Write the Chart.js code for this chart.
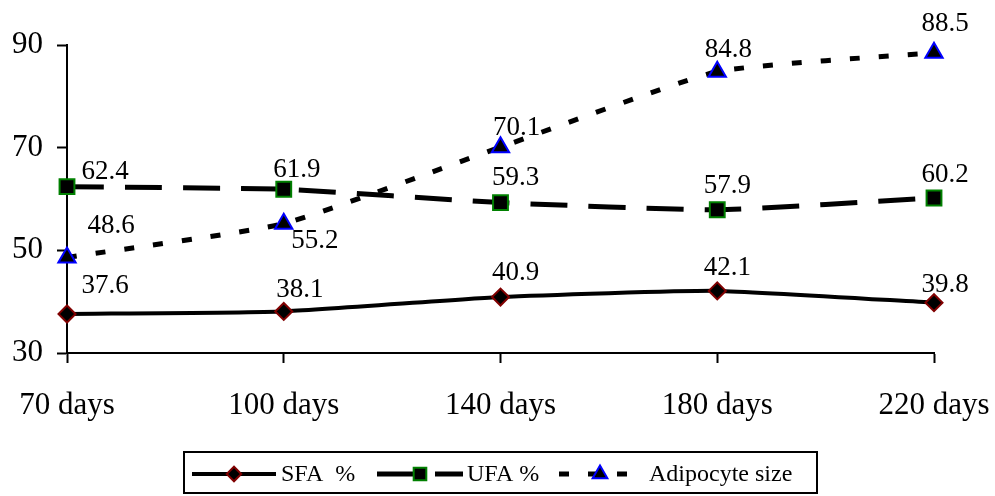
<!DOCTYPE html>
<html>
<head>
<meta charset="utf-8">
<script src="https://cdn.jsdelivr.net/npm/chart.js@4.4.1/dist/chart.umd.min.js"></script>
<style>
  html, body { margin: 0; padding: 0; background: #ffffff; }
  #wrap { width: 995px; height: 496px; }
</style>
</head>
<body>
<div id="wrap"><canvas id="line_chart" width="995" height="496"></canvas></div>
<script>
let ageLabels = ['70 days', '100 days', '140 days', '180 days', '220 days'];
let sfaData = [37.6, 38.1, 40.9, 42.1, 39.8];
let ufaData = [62.4, 61.9, 59.3, 57.9, 60.2];
let adipocyteData = [48.6, 55.2, 70.1, 84.8, 88.5];
let yTicks = [30, 50, 70, 90];

const FONT = '"Liberation Serif", "Times New Roman", serif';

// where each value label sits relative to its point (px)
let labelNudge = [
    [[38, -28], [16, -22], [15, -24], [10, -23], [11, -18]],
    [[38, -15], [13, -19], [15, -25], [10, -24], [11, -23]],
    [[44, -32], [31, 17], [16, -19], [11, -22], [11, -29]]
];

// value labels beside points
const valueLabels = {
    id: 'valueLabels',
    afterDatasetsDraw(chart) {
        let ctx = chart.ctx;
        ctx.save();
        ctx.font = '27px ' + FONT;
        ctx.fillStyle = '#000';
        ctx.textAlign = 'center';
        ctx.textBaseline = 'middle';
        chart.data.datasets.forEach(function (ds, i) {
            chart.getDatasetMeta(i).data.forEach(function (pt, j) {
                let n = labelNudge[i][j];
                ctx.fillText(ds.data[j].toFixed(1), pt.x + n[0], pt.y + n[1]);
            });
        });
        ctx.restore();
    }
};

// boxed legend with line + marker samples
const boxLegend = {
    id: 'boxLegend',
    afterDraw(chart) {
        let ctx = chart.ctx;
        ctx.save();
        ctx.strokeStyle = '#000';
        ctx.lineWidth = 2;
        ctx.strokeRect(184, 452, 633, 41);
        let y = 474;
        let items = [
            { x1: 192, x2: 276, tx: 281, text: 'SFA  %' },
            { x1: 377, x2: 463, tx: 467, text: 'UFA %' },
            { x1: 559, x2: 641, tx: 649, text: 'Adipocyte size' }
        ];
        ctx.font = '24px ' + FONT;
        ctx.textBaseline = 'middle';
        ctx.textAlign = 'left';
        items.forEach(function (it, i) {
            let ds = chart.data.datasets[i];
            ctx.beginPath();
            ctx.setLineDash(ds.borderDash || []);
            ctx.lineWidth = ds.borderWidth;
            ctx.strokeStyle = '#000';
            ctx.moveTo(it.x1, y);
            ctx.lineTo(it.x2, y);
            ctx.stroke();
            ctx.setLineDash([]);
            ctx.fillStyle = ds.pointBackgroundColor;
            ctx.strokeStyle = ds.pointBorderColor;
            ctx.lineWidth = ds.pointBorderWidth;
            Chart.helpers.drawPoint(ctx, {
                pointStyle: ds.pointStyle,
                radius: ds.pointRadius * 0.85,
                rotation: 0,
                borderWidth: ds.pointBorderWidth
            }, (it.x1 + it.x2) / 2, y);
            ctx.fillStyle = '#000';
            ctx.fillText(it.text, it.tx, y + 1);
        });
        ctx.restore();
    }
};

let ctx = document.getElementById('line_chart').getContext('2d');

let line_chart = new Chart(ctx, {
    type: 'line',
    data: {
        labels: ageLabels,
        datasets: [
            {
                label: 'SFA  %',
                data: sfaData,
                borderColor: '#000000',
                borderWidth: 4,
                tension: 0.15,
                pointStyle: 'rectRot',
                pointRadius: 8.5,
                pointBorderWidth: 2,
                pointBackgroundColor: '#000000',
                pointBorderColor: '#800000',
                clip: false
            },
            {
                label: 'UFA %',
                data: ufaData,
                borderColor: '#000000',
                borderWidth: 5,
                borderDash: [37, 21],
                tension: 0.15,
                pointStyle: 'rect',
                pointRadius: 10.5,
                pointBorderWidth: 2,
                pointBackgroundColor: '#000000',
                pointBorderColor: '#008000',
                clip: false
            },
            {
                label: 'Adipocyte size',
                data: adipocyteData,
                borderColor: '#000000',
                borderWidth: 5,
                borderDash: [10, 19],
                tension: 0.15,
                pointStyle: 'triangle',
                pointRadius: 10,
                pointBorderWidth: 2,
                pointBackgroundColor: '#000000',
                pointBorderColor: '#0000ff',
                clip: false
            }
        ]
    },
    options: {
        responsive: false,
        animation: false,
        layout: {
            padding: { left: 0, right: 61, top: 45, bottom: 63 }
        },
        scales: {
            x: {
                type: 'category',
                offset: false,
                afterFit: function (s) {
                    s.height = 80;
                    s.paddingLeft = 0;
                    s.paddingRight = 0;
                },
                grid: {
                    drawOnChartArea: false,
                    drawTicks: true,
                    tickLength: 10,
                    tickWidth: 2,
                    tickColor: '#000'
                },
                border: { color: '#000', width: 2 },
                ticks: {
                    color: '#000',
                    font: { family: FONT, size: 31 },
                    padding: 24,
                    maxRotation: 0,
                    autoSkip: false
                }
            },
            y: {
                min: 30,
                max: 90,
                afterFit: function (s) { s.width = 67; },
                afterBuildTicks: function (s) {
                    s.ticks = yTicks.map(function (v) { return { value: v }; });
                },
                grid: {
                    drawOnChartArea: false,
                    drawTicks: true,
                    tickLength: 10,
                    tickWidth: 2,
                    tickColor: '#000'
                },
                border: { color: '#000', width: 2 },
                ticks: {
                    color: '#000',
                    font: { family: FONT, size: 31 },
                    padding: 14
                }
            }
        },
        plugins: {
            legend: { display: false },
            tooltip: { enabled: false }
        }
    },
    plugins: [valueLabels, boxLegend]
});
</script>
</body>
</html>
